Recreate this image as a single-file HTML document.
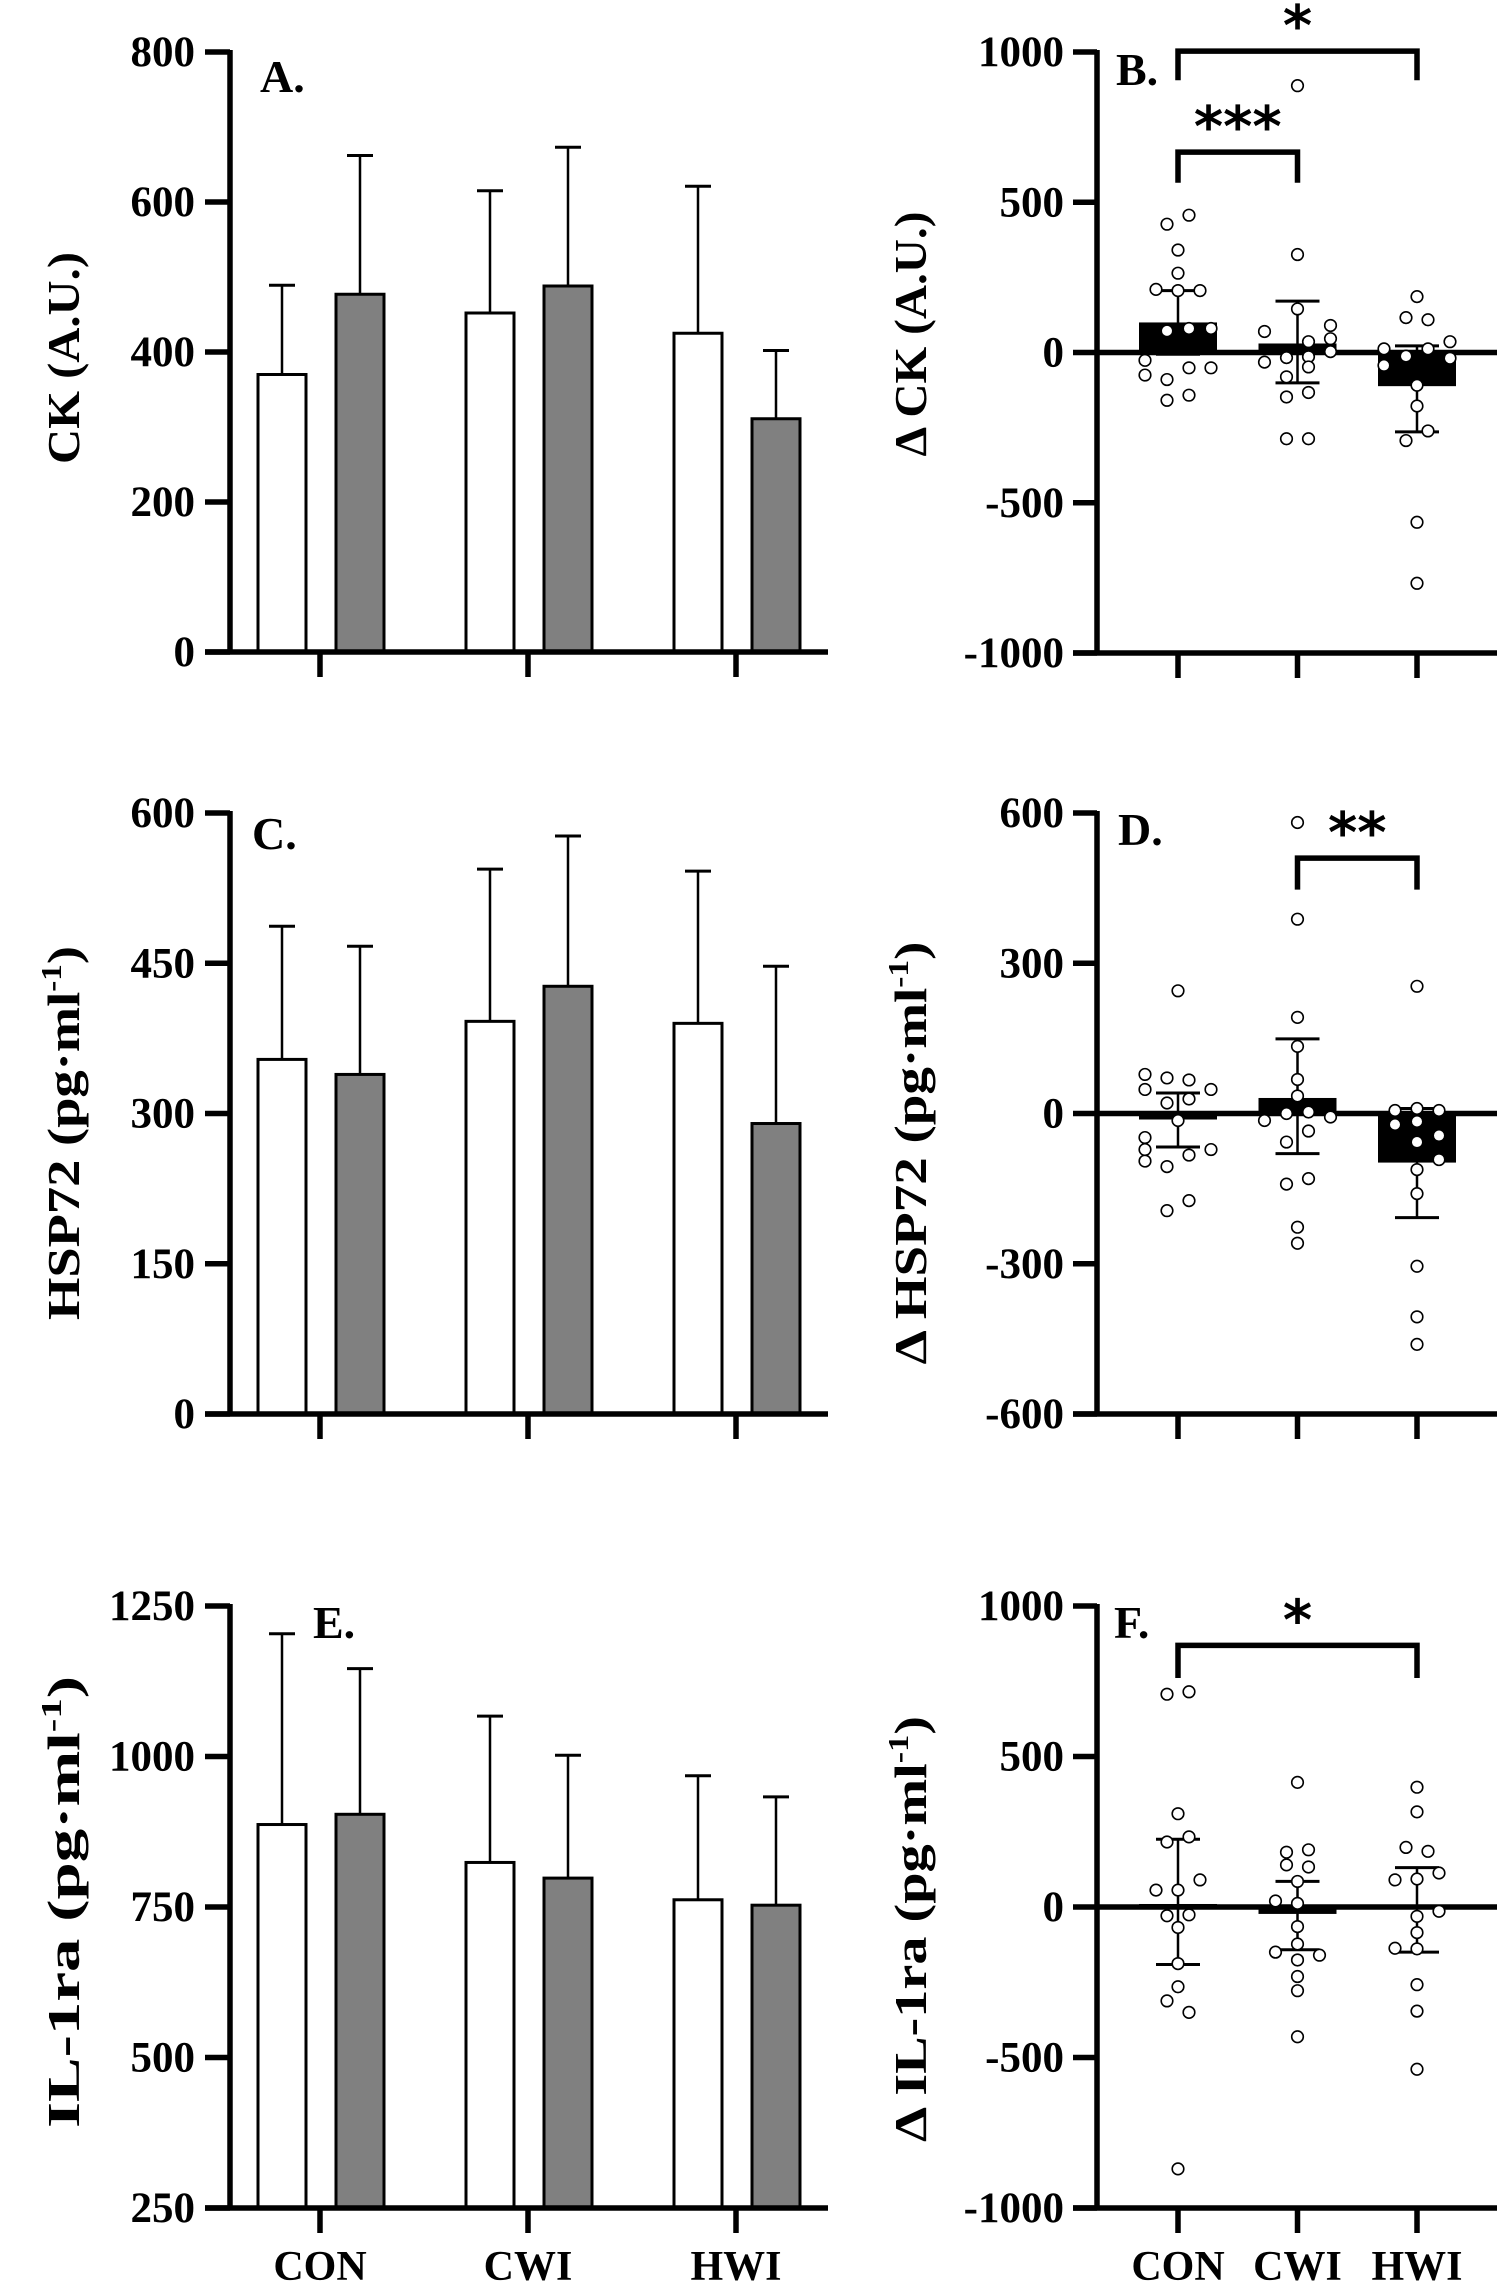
<!DOCTYPE html>
<html><head><meta charset="utf-8"><style>
html,body{margin:0;padding:0;background:#fff}
svg{display:block}
text{font-family:"Liberation Serif","Times New Roman",serif;font-weight:bold;fill:#000}
</style></head><body>
<svg id="fig" xmlns="http://www.w3.org/2000/svg" width="1501" height="2286" viewBox="0 0 1501 2286"></svg>
<script>
const groups = ["CON","CWI","HWI"];
// Panel A (CK)
const aPre = [370, 452, 425];
const aPreErr = [489, 615, 621];
const aPost = [477, 488, 311];
const aPostErr = [662, 673, 402];
const aTicks = [0,200,400,600,800];
// Panel C (HSP72)
const cPre = [354, 392, 390];
const cPreErr = [487, 544, 542];
const cPost = [339, 427, 290];
const cPostErr = [467, 577, 447];
const cTicks = [0,150,300,450,600];
// Panel E (IL-1ra)
const ePre = [887, 824, 762];
const ePreErr = [1204, 1067, 968];
const ePost = [904, 798, 753];
const ePostErr = [1146, 1002, 933];
const eTicks = [250,500,750,1000,1250];
// Panel B (delta CK)
const bMean = [100, 30, -112];
const bSdHi = [206, 171, 22];
const bSdLo = [-6, -101, -264];
const bTicks = [-1000,-500,0,500,1000];
const bConVals = [427,457,341,264,210,206,206,72,80,80,-26,-75,-90,-51,-51,-159,-142];
const bConSlot = [-1,1,0,0,-2,0,2,-1,1,3,-3,-3,-1,1,3,-1,1];
const bCwiVals = [888,326,145,70,90,46,36,3,-32,-17,-14,-48,-81,-148,-133,-287,-287];
const bCwiSlot = [0,0,0,-3,3,3,1,3,-3,-1,1,1,-1,-1,1,-1,1];
const bHwiVals = [186,116,109,36,12,12,-12,-19,-43,-109,-178,-261,-293,-565,-768];
const bHwiSlot = [0,-1,1,3,-3,1,-1,3,-3,0,0,1,-1,0,0];
// Panel D (delta HSP72)
const dMean = [-12, 31, -98];
const dSdHi = [41, 149, 10];
const dSdLo = [-67, -80, -208];
const dTicks = [-600,-300,0,300,600];
const dConVals = [245,78,71,67,48,48,21,29,-14,-48,-72,-95,-72,-83,-106,-174,-194];
const dConSlot = [0,-3,-1,1,-3,3,-1,1,0,-3,-3,-3,3,1,-1,1,-1];
const dCwiVals = [581,388,192,134,68,35,-14,0,3,-7,-35,-57,-141,-130,-227,-259];
const dCwiSlot = [0,0,0,0,0,0,-3,-1,1,3,1,-1,-1,1,0,0];
const dHwiVals = [254,6,10,6,-22,-16,-44,-57,-92,-112,-160,-305,-406,-461];
const dHwiSlot = [0,-2,0,2,-2,0,2,0,2,0,0,0,0,0];
// Panel F (delta IL-1ra)
const fMean = [10, -23, 2];
const fSdHi = [225, 85, 131];
const fSdLo = [-191, -142, -150];
const fTicks = [-1000,-500,0,500,1000];
const fConVals = [707,715,310,216,233,90,56,56,-29,-26,-68,-188,-265,-312,-350,-870];
const fConSlot = [-1,1,0,-1,1,2,-2,0,-1,1,0,0,0,-1,1,0];
const fCwiVals = [414,182,190,140,133,85,20,12,-65,-123,-150,-160,-176,-231,-278,-431];
const fCwiSlot = [0,-1,1,-1,1,0,-2,0,0,0,-2,2,0,0,0,0];
const fHwiVals = [398,316,198,185,90,93,113,-14,-31,-85,-137,-139,-258,-346,-539];
const fHwiSlot = [0,0,-1,1,-2,0,2,2,0,0,-2,0,0,0,0];

const NS = "http://www.w3.org/2000/svg";
const svg = document.getElementById('fig');
function mk(tag, attrs, parent){
  const e = document.createElementNS(NS, tag);
  for (const k in attrs) e.setAttribute(k, attrs[k]);
  (parent||svg).appendChild(e);
  return e;
}
function line(g,x1,y1,x2,y2,w){ return mk('line',{x1,y1,x2,y2,stroke:'#000','stroke-width':w},g); }

function yTitle(g, x, cy, len, main, sup, tail){
  const t = mk('text',{transform:`translate(${x},${cy}) rotate(-90)`,'text-anchor':'middle','font-size':46,textLength:len,lengthAdjust:'spacingAndGlyphs'},g);
  
  
  t.appendChild(document.createTextNode(main));
  if (sup){
    const s = mk('tspan',{'font-size':28,dy:-18},t);
    s.textContent = sup;
    const r = mk('tspan',{'font-size':46,dy:18},t);
    r.textContent = tail;
  }
}

function leftPanel(name, label, lx, ly, top, bot, ticks, pre, preErr, post, postErr, title){
  const g = mk('g',{});
  
  
  const ax = 230, xr = 828;
  const lo = ticks[0], hi = ticks[ticks.length-1];
  const Y = v => bot - (v-lo)/(hi-lo)*(bot-top);
  const X = i => 320 + i*208;
  for (let i=0;i<groups.length;i++){
    [[pre,preErr,-38,'#fff','pre'],[post,postErr,40,'#808080','post']].forEach(([vals,errs,off,fill,nm])=>{
      const cx = X(i)+off;
      const el = line(g,cx,Y(errs[i]),cx,Y(vals[i]),2.5);
      
      
      const cap = line(g,cx-13,Y(errs[i]),cx+13,Y(errs[i]),3);
      
      
      const r = mk('rect',{x:cx-24,y:Y(vals[i]),width:48,height:bot-Y(vals[i]),fill,stroke:'#000','stroke-width':3},g);
      
      
    });
  }
  const ya = line(g,ax,top-2,ax,bot+2,5.5);
  
  
  const xa = line(g,205,bot,xr,bot,5.5);
  
  
  ticks.forEach(t=>{
    line(g,205,Y(t),ax,Y(t),5.5);
    const tl = mk('text',{x:195,y:Y(t)+14,'text-anchor':'end','font-size':43},g);
    
    
    tl.textContent = t;
  });
  for (let i=0;i<groups.length;i++) line(g,X(i),bot,X(i),bot+25,5.5);
  const pl = mk('text',{x:lx,y:ly,'font-size':46},g);
  
  
  pl.textContent = label;
  yTitle(g, 79, title.cy, title.len, title.main, title.sup, title.tail);
}

function rightPanel(name, label, lx, ly, top, bot, ticks, mean, hi_, lo_, vals, slots, title, brackets){
  const g = mk('g',{});
  
  
  const ax = 1097, xr = 1497;
  const lo = ticks[0], hi = ticks[ticks.length-1];
  const Y = v => bot - (v-lo)/(hi-lo)*(bot-top);
  const X = i => 1178 + i*119.5;
  for (let i=0;i<groups.length;i++){
    const cx = X(i);
    const r = mk('rect',{x:cx-39,y:Math.min(Y(mean[i]),Y(0)),width:78,height:Math.abs(Y(mean[i])-Y(0)),fill:'#000'},g);
    
    
    const eb = line(g,cx,Y(hi_[i]),cx,Y(lo_[i]),2.5);
    
    
    line(g,cx-22,Y(hi_[i]),cx+22,Y(hi_[i]),3);
    line(g,cx-22,Y(lo_[i]),cx+22,Y(lo_[i]),3);
  }
  const za = line(g,ax,Y(0),xr,Y(0),5.5);
  
  
  for (let i=0;i<groups.length;i++){
    vals[i].forEach((v,k)=>{
      const c = mk('circle',{cx:X(i)+slots[i][k]*11,cy:Y(v),r:5.8,fill:'#fff',stroke:'#000','stroke-width':1.6},g);
      
      
    });
  }
  const ya = line(g,ax,top-2,ax,bot+2,5.5);
  
  
  const xa = line(g,1073,bot,xr,bot,5.5);
  
  
  ticks.forEach(t=>{
    line(g,1073,Y(t),ax,Y(t),5.5);
    const tl = mk('text',{x:1064,y:Y(t)+14,'text-anchor':'end','font-size':43},g);
    
    
    tl.textContent = t;
  });
  for (let i=0;i<groups.length;i++) line(g,X(i),bot,X(i),bot+25,5.5);
  const pl = mk('text',{x:lx,y:ly,'font-size':46},g);
  
  
  pl.textContent = label;
  yTitle(g, 926, title.cy, title.len, title.main, title.sup, title.tail);
  brackets.forEach(b=>{
    const x1 = X(b.from), x2 = X(b.to), yb = Y(b.level), yl = Y(b.leg);
    const p = mk('path',{d:`M${x1},${yl} L${x1},${yb} L${x2},${yb} L${x2},${yl}`,fill:'none',stroke:'#000','stroke-width':5.5},g);
    
    
    const s = mk('text',{x:(x1+x2)/2,y:yb-6,'text-anchor':'middle','font-size':56,style:'font-family:"DejaVu Sans",sans-serif'},g);
    
    
    s.textContent = b.stars;
  });
}

leftPanel('panel-a-ck','A.',260,92,52,652,aTicks,aPre,aPreErr,aPost,aPostErr,{cy:358,len:212,main:'CK (A.U.)'});
leftPanel('panel-c-hsp72','C.',252,849,813,1414,cTicks,cPre,cPreErr,cPost,cPostErr,{cy:1133,len:374,main:'HSP72 (pg·ml',sup:'-1',tail:')'});
leftPanel('panel-e-il1ra','E.',313,1638,1606,2208,eTicks,ePre,ePreErr,ePost,ePostErr,{cy:1902,len:452,main:'IL-1ra (pg·ml',sup:'-1',tail:')'});

rightPanel('panel-b-delta-ck','B.',1116,85,52,653,bTicks,bMean,bSdHi,bSdLo,[bConVals,bCwiVals,bHwiVals],[bConSlot,bCwiSlot,bHwiSlot],{cy:334,len:245,main:'Δ CK (A.U.)'},
  [{from:0,to:2,level:1003,leg:906,stars:'*'},{from:0,to:1,level:667,leg:565,stars:'***'}]);
rightPanel('panel-d-delta-hsp72','D.',1118,845,813,1414,dTicks,dMean,dSdHi,dSdLo,[dConVals,dCwiVals,dHwiVals],[dConSlot,dCwiSlot,dHwiSlot],{cy:1153,len:423,main:'Δ HSP72 (pg·ml',sup:'-1',tail:')'},
  [{from:1,to:2,level:510,leg:447,stars:'**'}]);
rightPanel('panel-f-delta-il1ra','F.',1114,1638,1606,2208,fTicks,fMean,fSdHi,fSdLo,[fConVals,fCwiVals,fHwiVals],[fConSlot,fCwiSlot,fHwiSlot],{cy:1929,len:426,main:'Δ IL-1ra (pg·ml',sup:'-1',tail:')'},
  [{from:0,to:2,level:869,leg:761,stars:'*'}]);

const leftX = [320,528,736], rightX = [1178,1297.5,1417];
groups.forEach((gname,i)=>{
  [leftX[i], rightX[i]].forEach(x=>{
    const t = mk('text',{x:x,y:2280,'text-anchor':'middle','font-size':42});
    
    
    t.textContent = gname;
  });
});
</script>
</body></html>
